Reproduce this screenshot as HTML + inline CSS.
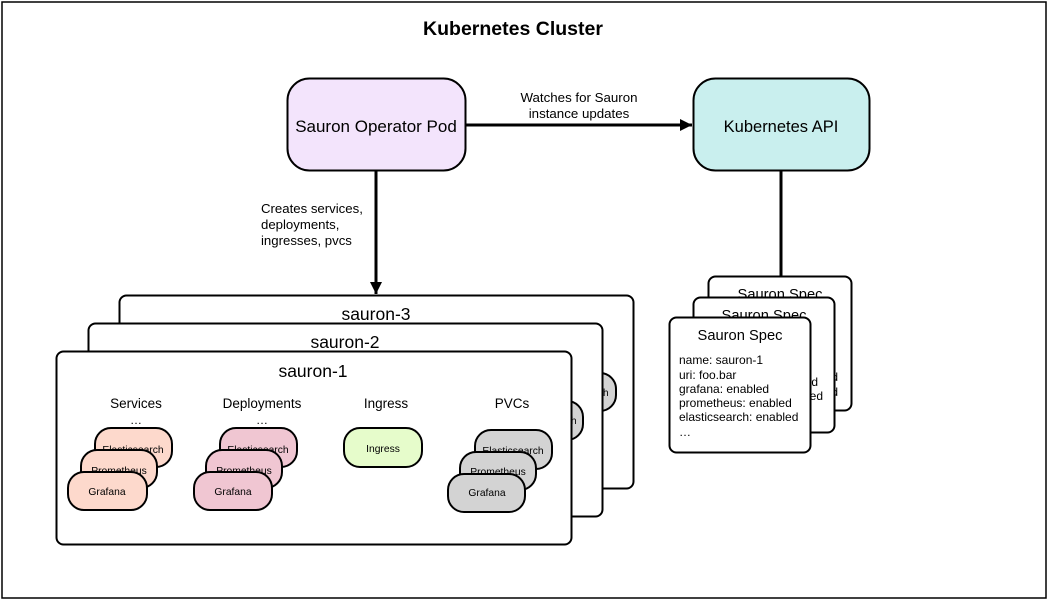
<!DOCTYPE html>
<html><head><meta charset="utf-8"><style>
html,body{margin:0;padding:0;background:#fff}
svg text{font-family:"Liberation Sans",sans-serif;fill:#000}
</style></head><body>
<svg width="1049" height="600" viewBox="0 0 1049 600" xmlns="http://www.w3.org/2000/svg">
<defs>
<marker id="av" markerWidth="12" markerHeight="14" refX="12" refY="6" orient="auto" markerUnits="userSpaceOnUse"><path d="M0,0 L12,6 L0,12 z" fill="#000"/></marker></defs>
<rect x="2" y="2" width="1044" height="596" fill="#fff" stroke="#000" stroke-width="1.5"/>
<text x="513" y="35" font-size="19.5" font-weight="bold" text-anchor="middle">Kubernetes Cluster</text>

<rect x="287.5" y="78.5" width="178" height="92" rx="22" fill="#f3e4fc" stroke="#000" stroke-width="2"/>
<text x="376" y="132" font-size="17" text-anchor="middle">Sauron Operator Pod</text>
<rect x="693.5" y="78.5" width="176" height="92" rx="22" fill="#c9efee" stroke="#000" stroke-width="2"/>
<text x="781" y="132" font-size="16.5" text-anchor="middle">Kubernetes API</text>

<line x1="466" y1="125" x2="692" y2="125" stroke="#000" stroke-width="3" marker-end="url(#av)"/>
<text x="579" y="102" font-size="13.3" text-anchor="middle">Watches for Sauron</text>
<text x="579" y="118" font-size="13.3" text-anchor="middle">instance updates</text>
<line x1="376" y1="171" x2="376" y2="294" stroke="#000" stroke-width="3" marker-end="url(#av)"/>
<text x="261" y="213" font-size="13.2">Creates services,</text>
<text x="261" y="229" font-size="13.2">deployments,</text>
<text x="261" y="245" font-size="13.2">ingresses, pvcs</text>
<line x1="781" y1="171" x2="781" y2="277" stroke="#000" stroke-width="3"/>

<!-- spec cards -->
<rect x="708.5" y="276.5" width="143" height="134" rx="7" fill="#fff" stroke="#000" stroke-width="2"/>
<text x="780" y="299" font-size="14.7" text-anchor="middle">Sauron Spec</text>
<text x="838" y="381" font-size="12" text-anchor="end">enabled</text>
<text x="838" y="396" font-size="12" text-anchor="end">enabled</text>
<rect x="693.5" y="297.5" width="141" height="135" rx="7" fill="#fff" stroke="#000" stroke-width="2"/>
<text x="764" y="320" font-size="14.7" text-anchor="middle">Sauron Spec</text>
<text x="818" y="386" font-size="12" text-anchor="end">enabled</text>
<text x="823" y="400" font-size="12" text-anchor="end">enabled</text>
<rect x="669.5" y="317.5" width="141" height="135" rx="7" fill="#fff" stroke="#000" stroke-width="2"/>
<text x="740" y="340" font-size="14.7" text-anchor="middle">Sauron Spec</text>
<g font-size="12">
<text x="679" y="364">name: sauron-1</text>
<text x="679" y="379">uri: foo.bar</text>
<text x="679" y="393">grafana: enabled</text>
<text x="679" y="407">prometheus: enabled</text>
<text x="679" y="421">elasticsearch: enabled</text>
<text x="679" y="436">…</text>
</g>

<!-- sauron boxes -->
<rect x="119.5" y="295.5" width="514" height="193" rx="7" fill="#fff" stroke="#000" stroke-width="2"/>
<text x="376" y="320" font-size="17.5" text-anchor="middle">sauron-3</text>
<rect x="540" y="373" width="76" height="38" rx="16" fill="#d3d3d3" stroke="#000" stroke-width="2"/>
<text x="603" y="396" font-size="10">h</text>
<rect x="88.5" y="323.5" width="514" height="193" rx="7" fill="#fff" stroke="#000" stroke-width="2"/>
<text x="345" y="348" font-size="17.5" text-anchor="middle">sauron-2</text>
<rect x="507" y="401" width="76" height="39" rx="16" fill="#d3d3d3" stroke="#000" stroke-width="2"/>
<text x="571" y="424" font-size="10">h</text>
<rect x="56.5" y="351.5" width="515" height="193" rx="7" fill="#fff" stroke="#000" stroke-width="2"/>
<text x="313" y="377" font-size="17.5" text-anchor="middle">sauron-1</text>

<g font-size="13.5" text-anchor="middle">
<text x="136" y="408">Services</text>
<text x="262" y="408">Deployments</text>
<text x="386" y="408">Ingress</text>
<text x="512" y="408">PVCs</text>
<text x="136" y="424" font-size="12">…</text>
<text x="262" y="424" font-size="12">…</text>
</g>

<g stroke="#000" stroke-width="2" font-size="10.3" text-anchor="middle">
<rect x="95" y="428" width="77" height="39" rx="16" fill="#fdd9cc"/><text x="133" y="453" stroke="none">Elasticsearch</text>
<rect x="81" y="450" width="76" height="38" rx="16" fill="#fdd9cc"/><text x="119" y="474" stroke="none">Prometheus</text>
<rect x="68" y="472" width="79" height="38" rx="16" fill="#fdd9cc"/><text x="107" y="495" stroke="none">Grafana</text>

<rect x="220" y="428" width="77" height="39" rx="16" fill="#f0c6d2"/><text x="258" y="453" stroke="none">Elasticsearch</text>
<rect x="206" y="450" width="76" height="38" rx="16" fill="#f0c6d2"/><text x="244" y="474" stroke="none">Prometheus</text>
<rect x="194" y="472" width="78" height="38" rx="16" fill="#f0c6d2"/><text x="233" y="495" stroke="none">Grafana</text>

<rect x="344" y="428" width="78" height="39" rx="16" fill="#e6fccb"/><text x="383" y="452" stroke="none">Ingress</text>

<rect x="475" y="430" width="77" height="39" rx="16" fill="#d3d3d3"/><text x="513" y="454" stroke="none">Elasticsearch</text>
<rect x="460" y="452" width="76" height="38" rx="16" fill="#d3d3d3"/><text x="498" y="475" stroke="none">Prometheus</text>
<rect x="448" y="474" width="77" height="38" rx="16" fill="#d3d3d3"/><text x="487" y="496" stroke="none">Grafana</text>
</g>
</svg>
</body></html>
